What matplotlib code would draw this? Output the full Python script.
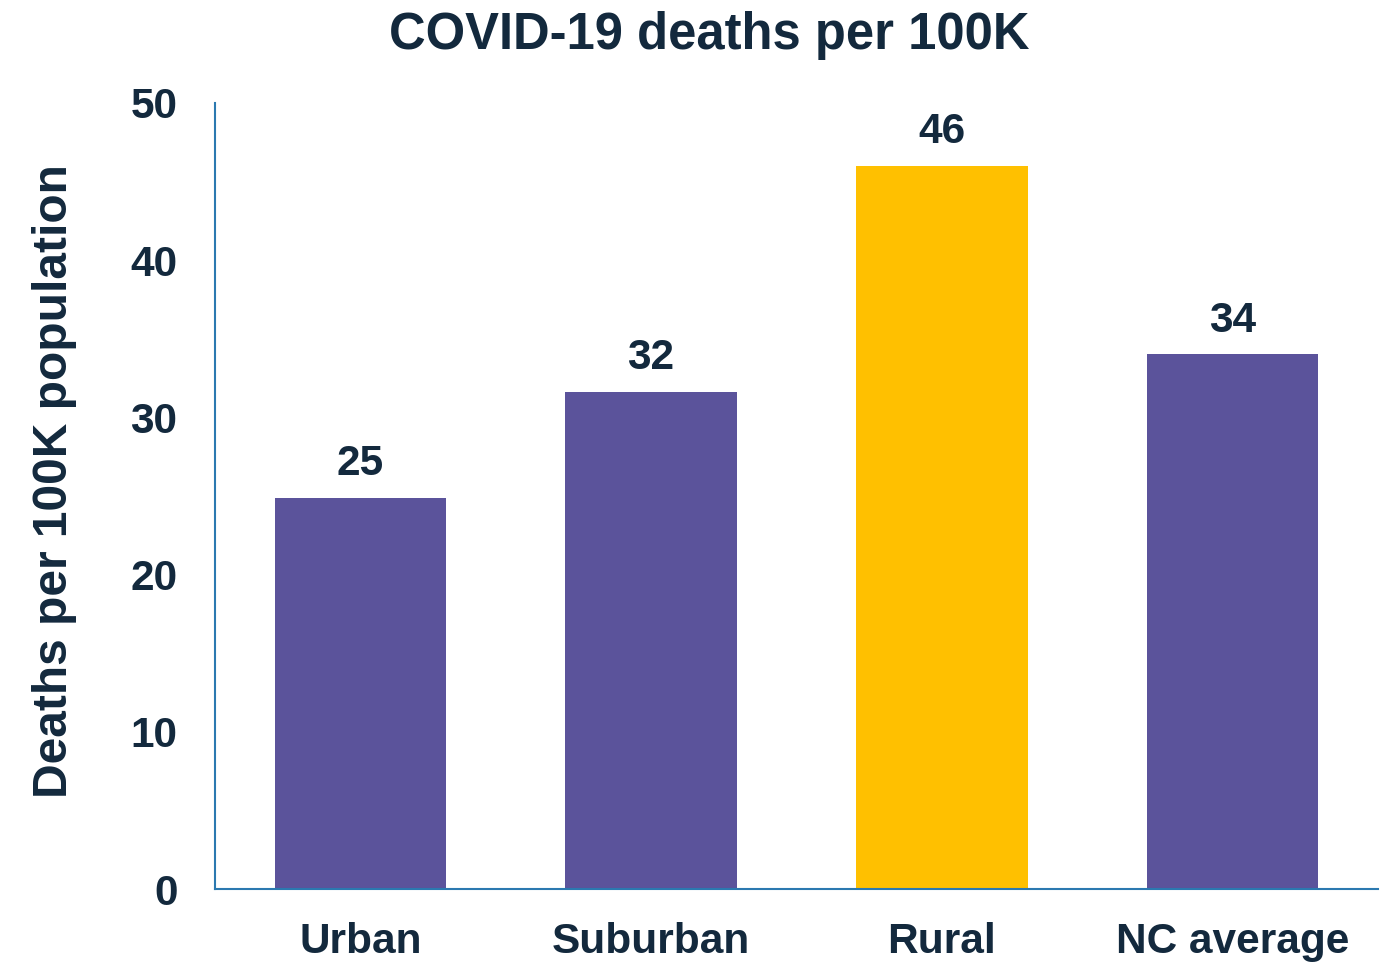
import matplotlib
matplotlib.use('Agg')
from matplotlib import pyplot as plt
import numpy as np

categories = ['Urban', 'Suburban', 'Rural', 'NC average']
deaths_per_100k = [24.9, 31.6, 46.0, 34.0]
bar_labels = ['25', '32', '46', '34']
bar_colors = ['#5B539B', '#5B539B', '#FFC000', '#5B539B']
y_ticks = [0, 10, 20, 30, 40, 50]

TEXT_COLOR = '#13293D'
AXIS_COLOR = '#2B79B0'

plt.rcParams['font.family'] = ['Liberation Sans', 'DejaVu Sans']
plt.rcParams['font.weight'] = 'bold'

fig = plt.figure(figsize=(13.94, 9.64), dpi=100)
ax = fig.add_axes([0.1542, 0.0778, 0.8343, 0.8154])

x = np.arange(len(categories))
bars = ax.bar(x, deaths_per_100k, width=0.59, color=bar_colors)

for rect, label in zip(bars, bar_labels):
    ax.annotate(label, (rect.get_x() + rect.get_width() / 2, rect.get_height()),
                xytext=(0, 10), textcoords='offset points', ha='center', va='bottom',
                fontsize=30.5, fontweight='bold', color=TEXT_COLOR)

ax.set_xlim(-0.5, 3.5)
ax.set_ylim(0, 50)
ax.set_xticks(x)
ax.set_xticklabels(categories)
ax.set_yticks(y_ticks)
ax.tick_params(axis='both', length=0, labelsize=30.5, labelcolor=TEXT_COLOR)
ax.tick_params(axis='x', pad=24)
ax.tick_params(axis='y', pad=27)
for lbl in ax.get_xticklabels() + ax.get_yticklabels():
    lbl.set_fontweight('bold')

for side in ['top', 'right']:
    ax.spines[side].set_visible(False)
for side in ['left', 'bottom']:
    ax.spines[side].set_color(AXIS_COLOR)
    ax.spines[side].set_linewidth(1.5)

ax.set_ylabel('Deaths per 100K population', fontsize=34.5, fontweight='bold',
              color=TEXT_COLOR)
ax.yaxis.set_label_coords(-0.138, 0.519)
ax.yaxis.label.set_va('center')

fig.text(0.509, 0.963, 'COVID-19 deaths per 100K', ha='center', va='center',
         fontsize=36.5, fontweight='bold', color=TEXT_COLOR)

fig.savefig('out.png', dpi=100)
